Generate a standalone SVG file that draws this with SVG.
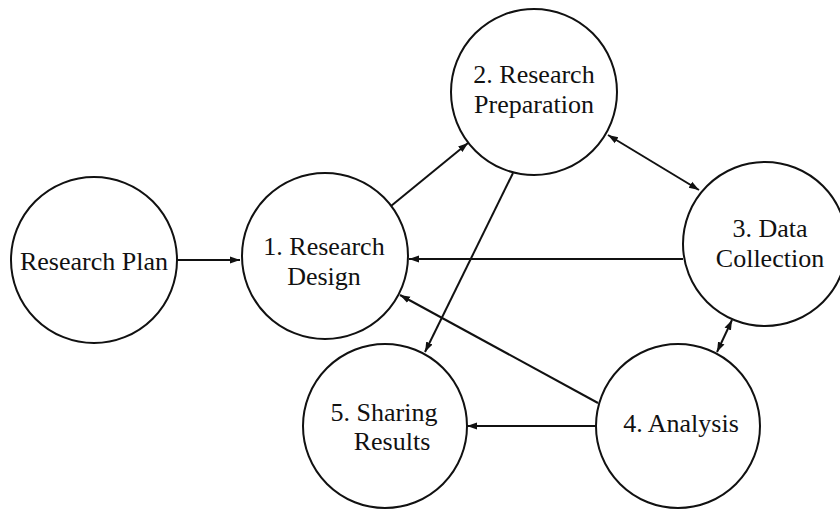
<svg xmlns="http://www.w3.org/2000/svg" width="840" height="510" viewBox="0 0 840 510">
<defs>
<marker id="ah" viewBox="0 0 10 10" refX="10" refY="5" markerWidth="10" markerHeight="10" markerUnits="userSpaceOnUse" orient="auto-start-reverse">
<path d="M0,1.5 L10,5 L0,8.5 Z" fill="#111"/>
</marker>
<style>
.n{fill:#fff;stroke:#111;stroke-width:2}
.t{font-family:"Liberation Serif","Times New Roman",serif;font-size:26px;fill:#111;text-anchor:middle}
.c{stroke:#111;stroke-width:2;fill:none}
</style>
</defs>
<rect width="840" height="510" fill="#fff"/>
<g id="connectors">
<line class="c" x1="177" y1="260" x2="240" y2="260" marker-end="url(#ah)"/>
<line class="c" x1="391" y1="206" x2="468" y2="143" marker-end="url(#ah)"/>
<line class="c" x1="608" y1="135" x2="699" y2="190" marker-start="url(#ah)" marker-end="url(#ah)"/>
<line class="c" x1="683" y1="259" x2="409" y2="259" marker-end="url(#ah)"/>
<line class="c" x1="513" y1="173" x2="425" y2="352" marker-end="url(#ah)"/>
<line class="c" x1="732" y1="320" x2="717" y2="352" marker-start="url(#ah)" marker-end="url(#ah)"/>
<line class="c" x1="598" y1="403" x2="400" y2="295" marker-end="url(#ah)"/>
<line class="c" x1="596" y1="426" x2="467" y2="426" marker-end="url(#ah)"/>
</g>
<g id="plan">
<circle class="n" cx="94" cy="260" r="83"/>
<text class="t" x="94" y="270">Research Plan</text>
</g>
<g id="design">
<circle class="n" cx="325" cy="256" r="83"/>
<text class="t" x="324" y="255">1. Research</text>
<text class="t" x="324" y="285">Design</text>
</g>
<g id="preparation">
<circle class="n" cx="534" cy="92" r="83"/>
<text class="t" x="534" y="83">2. Research</text>
<text class="t" x="534" y="113">Preparation</text>
</g>
<g id="collection">
<circle class="n" cx="765" cy="244" r="82"/>
<text class="t" x="770" y="237">3. Data</text>
<text class="t" x="770" y="267">Collection</text>
</g>
<g id="analysis">
<circle class="n" cx="678" cy="426" r="82"/>
<text class="t" x="681" y="432">4. Analysis</text>
</g>
<g id="sharing">
<circle class="n" cx="385" cy="426" r="82"/>
<text class="t" x="384" y="421">5. Sharing</text>
<text class="t" x="392" y="450">Results</text>
</g>
</svg>
